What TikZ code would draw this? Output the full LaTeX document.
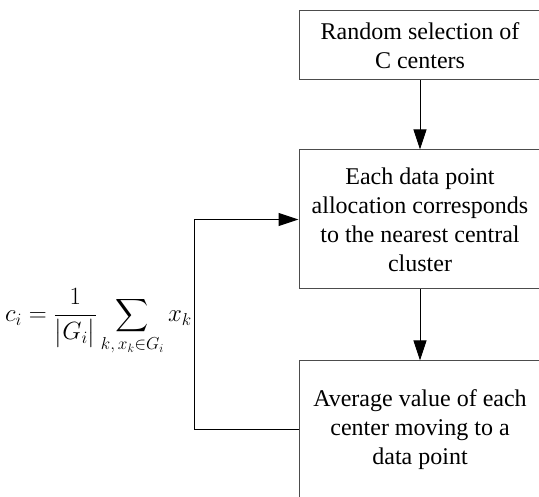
\documentclass[tikz,border=0pt]{standalone}
\usepackage{fontspec}
\setmainfont{Liberation Serif}
\usepackage{amsmath, amssymb}
\usetikzlibrary{arrows.meta, positioning}

\begin{document}
\begin{tikzpicture}[
  x=1pt, y=-1pt,
  box/.style={draw=black!70, line width=1pt, minimum width=242pt,
              inner sep=0pt, align=center,
              font=\fontsize{24}{29}\selectfont},
  flow/.style={-{Triangle[length=20pt, width=13pt]}, line width=1pt},
]
\useasboundingbox (0,0) rectangle (539,497);

% Steps
\node[box, minimum height=69pt] (sel) at (420, 45.5) {Random selection of\\C centers};
\node[box, minimum height=139pt] (alloc) at (420, 219.5)
{Each data point\\allocation corresponds\\to the nearest central\\cluster};
\node[box, minimum height=138pt] (avg) at (420, 430)
{Average value of each\\center moving to a\\data point};

\draw[flow] (sel) -- (alloc);
\draw[flow] (alloc) -- (avg);

% Feedback loop
\coordinate (loop) at (194, 430);
\draw[flow] (avg.west) -- (loop) |- (alloc.west);

% Update formula
\node[anchor=east, inner sep=0pt, font=\fontsize{23}{28}\selectfont] (upd) at (192, 322)
{$\displaystyle c_i = \frac{1}{\bigl\lvert G_i\bigr\rvert}\sum_{k,\,x_k\in G_i} x_k$};
\end{tikzpicture}
\end{document}
